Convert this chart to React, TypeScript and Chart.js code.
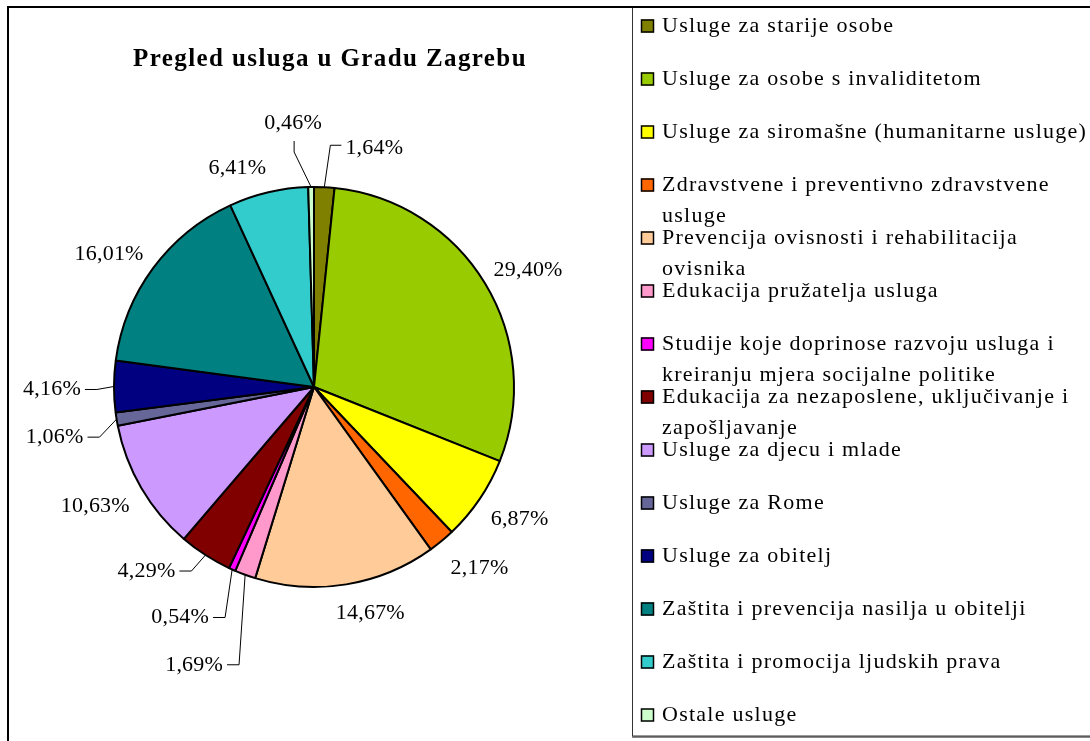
import React, { useEffect, useRef } from "react";
import { Chart, registerables } from "chart.js";

Chart.register(...registerables);

const TITLE = "Pregled usluga u Gradu Zagrebu";

const categories: string[] = [
  "Usluge za starije osobe",
  "Usluge za osobe s invaliditetom",
  "Usluge za siromašne (humanitarne usluge)",
  "Zdravstvene i preventivno zdravstvene usluge",
  "Prevencija ovisnosti i rehabilitacija ovisnika",
  "Edukacija pružatelja usluga",
  "Studije koje doprinose razvoju usluga i kreiranju mjera socijalne politike",
  "Edukacija za nezaposlene, uključivanje i zapošljavanje",
  "Usluge za djecu i mlade",
  "Usluge za Rome",
  "Usluge za obitelj",
  "Zaštita i prevencija nasilja u obitelji",
  "Zaštita i promocija ljudskih prava",
  "Ostale usluge",
];

const shares: number[] = [
  1.64, 29.4, 6.87, 2.17, 14.67, 1.69, 0.54, 4.29, 10.63, 1.06, 4.16, 16.01, 6.41, 0.46,
];

const colors: string[] = [
  "#808000", "#99CC00", "#FFFF00", "#FF6600", "#FFCC99", "#FF99CC", "#FF00FF",
  "#800000", "#CC99FF", "#666699", "#000080", "#008080", "#33CCCC", "#CCFFCC",
];

// Label placement relative to each slice's outer mid-point: [dx, dy, leader side]
const labelPlacement: [number, number, string][] = [
  [50, -39, "left"],
  [43, -13, ""],
  [40, 20, ""],
  [38, 27, ""],
  [24, 29, ""],
  [-51, 90, "right"],
  [-52, 48, "right"],
  [-59, 16, "right"],
  [-46, 18, ""],
  [-62, 18, "right"],
  [-62, 3, "right"],
  [-44, -14, ""],
  [-31, -24, ""],
  [-18, -64, "bottom"],
];

const FONT = '"Liberation Serif", "Times New Roman", serif';

function fmt(v: number): string {
  return v.toFixed(2).replace(".", ",") + "%";
}

function wrap(ctx: CanvasRenderingContext2D, text: string, maxW: number): string[] {
  const words = text.split(" ");
  const lines: string[] = [];
  let cur = "";
  for (const w of words) {
    const test = cur ? cur + " " + w : w;
    if (cur && ctx.measureText(test).width > maxW) {
      lines.push(cur);
      cur = w;
    } else cur = test;
  }
  if (cur) lines.push(cur);
  return lines;
}

const decorPlugin = {
  id: "decor",
  afterDraw(chart: any) {
    const ctx: CanvasRenderingContext2D = chart.ctx;
    const W = chart.width;
    const H = chart.height;
    ctx.save();

    // outer frame
    ctx.strokeStyle = "#000";
    ctx.lineWidth = 2;
    ctx.beginPath();
    ctx.moveTo(8, H + 5);
    ctx.lineTo(8, 7);
    ctx.lineTo(W + 5, 7);
    ctx.stroke();

    // title
    ctx.fillStyle = "#000";
    ctx.font = `bold 25px ${FONT}`;
    (ctx as any).letterSpacing = "1.4px";
    ctx.textAlign = "center";
    ctx.textBaseline = "alphabetic";
    ctx.fillText(TITLE, 330, 66);

    // data labels
    const meta = chart.getDatasetMeta(0);
    ctx.font = `22px ${FONT}`;
    (ctx as any).letterSpacing = "0.2px";
    ctx.textBaseline = "middle";
    ctx.lineWidth = 1;
    meta.data.forEach((arc: any, i: number) => {
      const p = arc.getProps(["x", "y", "startAngle", "endAngle", "outerRadius"], true);
      const mid = (p.startAngle + p.endAngle) / 2;
      const ax = p.x + Math.cos(mid) * p.outerRadius;
      const ay = p.y + Math.sin(mid) * p.outerRadius;
      const [dx, dy, leader] = labelPlacement[i];
      const tx = ax + dx;
      const ty = ay + dy;
      const text = fmt(shares[i]);
      ctx.textAlign = "center";
      ctx.fillText(text, tx, ty);
      const w = ctx.measureText(text).width;
      if (leader) {
        ctx.beginPath();
        if (leader === "right") {
          const x0 = tx + w / 2 + 4;
          ctx.moveTo(x0, ty);
          ctx.lineTo(x0 + 12, ty);
          ctx.lineTo(ax, ay);
        } else if (leader === "left") {
          const x0 = tx - w / 2 - 4;
          ctx.moveTo(x0, ty - 3);
          ctx.lineTo(x0 - 11, ty - 3);
          ctx.lineTo(ax, ay);
        } else if (leader === "bottom") {
          const y0 = ty + 18;
          ctx.moveTo(tx + 1, y0);
          ctx.lineTo(tx + 1, y0 + 11);
          ctx.lineTo(ax, ay);
        }
        ctx.strokeStyle = "#000";
        ctx.stroke();
      }
    });

    // legend box
    ctx.strokeStyle = "#888";
    ctx.lineWidth = 2;
    ctx.beginPath();
    ctx.moveTo(632, 737);
    ctx.lineTo(W + 5, 737);
    ctx.stroke();
    ctx.strokeStyle = "#333";
    ctx.lineWidth = 1;
    ctx.beginPath();
    ctx.moveTo(632.5, 8);
    ctx.lineTo(632.5, 736);
    ctx.lineTo(W + 5, 736);
    ctx.stroke();

    ctx.font = `22px ${FONT}`;
    (ctx as any).letterSpacing = "1.25px";
    ctx.textAlign = "left";
    ctx.textBaseline = "middle";
    categories.forEach((name, i) => {
      const cy = 26 + i * 53;
      ctx.fillStyle = colors[i];
      ctx.fillRect(641, cy - 6.5, 13, 13);
      ctx.strokeStyle = "#000";
      ctx.lineWidth = 1.5;
      ctx.strokeRect(641.5, cy - 6, 12, 12);
      ctx.fillStyle = "#000";
      const lines = wrap(ctx, name, 430);
      lines.forEach((ln, k) => ctx.fillText(ln, 662, cy + k * 31));
    });

    ctx.restore();
  },
};

export default function App() {
  const ref = useRef<HTMLCanvasElement | null>(null);
  useEffect(() => {
    if (!ref.current) return;
    const chart = new Chart(ref.current, {
      type: "pie",
      data: {
        labels: categories,
        datasets: [
          {
            data: shares,
            backgroundColor: colors,
            borderColor: "#000",
            borderWidth: 2,
          },
        ],
      },
      options: {
        responsive: false,
        animation: false,
        devicePixelRatio: 1,
        events: [],
        layout: { padding: { left: 113, right: 575, top: 186, bottom: 153 } },
        plugins: {
          legend: { display: false },
          title: { display: false },
          tooltip: { enabled: false },
        },
      },
      plugins: [decorPlugin],
    } as any);
    return () => chart.destroy();
  }, []);
  return (
    <div style={{ position: "fixed", left: 0, top: 0, width: 1090, height: 741, background: "#fff" }}>
      <canvas ref={ref} width={1090} height={741} style={{ display: "block" }} />
    </div>
  );
}
